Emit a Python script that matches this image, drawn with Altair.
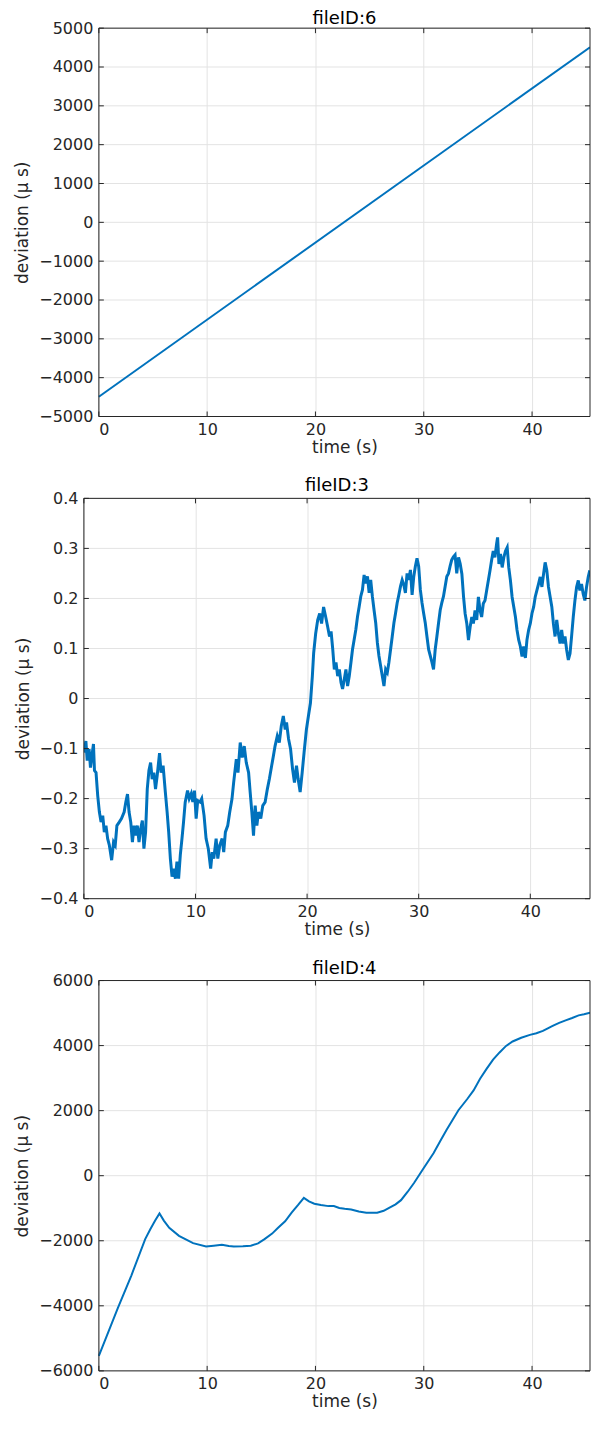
import altair as alt
import pandas as pd

# ---------------- data ----------------
# fileID:6
T6 = [0.0, 45.35]
V6 = [-4490, 4510]

# fileID:3 (noisy)
T3 = [0.0, 0.18, 0.3, 0.47, 0.59, 0.74, 0.86, 0.95, 1.09, 1.24, 1.39, 1.54, 1.69, 1.83, 1.98,
      2.13, 2.28, 2.49, 2.66, 2.81, 2.96, 3.17, 3.37, 3.61, 3.76, 3.91, 4.05, 4.2, 4.35, 4.5,
      4.64, 4.79, 4.94, 5.09, 5.24, 5.38, 5.53, 5.68, 5.83, 5.98, 6.12, 6.27, 6.42, 6.57, 6.78,
      6.92, 7.1, 7.3, 7.46, 7.6, 7.75, 7.9, 8.05, 8.2, 8.34, 8.49, 8.64, 8.79, 8.93, 9.08,
      9.29, 9.44, 9.62, 9.76, 9.91, 10.06, 10.2, 10.41, 10.56, 10.77, 10.95, 11.15, 11.36,
      11.5, 11.64, 11.85, 12.0, 12.18, 12.39, 12.53, 12.68, 12.89, 13.07, 13.27, 13.42, 13.66,
      13.81, 14.01, 14.19, 14.37, 14.55, 14.76, 14.9, 15.05, 15.2, 15.35, 15.5, 15.64, 15.85,
      16.03, 16.24, 16.44, 16.62, 16.83, 16.98, 17.13, 17.33, 17.51, 17.69, 17.87, 18.04,
      18.16, 18.34, 18.52, 18.7, 18.87, 19.05, 19.2, 19.38, 19.56, 19.73, 19.94, 20.12, 20.3,
      20.47, 20.59, 20.77, 20.95, 21.13, 21.3, 21.48, 21.66, 21.84, 22.01,
      22.15, 22.3, 22.44, 22.59, 22.74, 22.89, 23.04, 23.18, 23.33, 23.48, 23.63, 23.78, 23.93,
      24.07, 24.22, 24.37, 24.52, 24.67, 24.81, 24.96, 25.11, 25.26, 25.41, 25.56, 25.7, 25.85,
      26.0, 26.15, 26.3, 26.44, 26.59, 26.74, 26.89, 27.04, 27.19, 27.33, 27.48, 27.63, 27.78,
      27.93, 28.07, 28.22, 28.37, 28.52, 28.67, 28.81, 28.96, 29.11, 29.26, 29.41, 29.56, 29.7,
      29.85, 30.0, 30.15, 30.3, 30.44, 30.59, 30.74, 30.89, 31.04, 31.19, 31.33, 31.48, 31.63,
      31.78, 31.93, 32.07, 32.22, 32.37, 32.52, 32.67, 32.81, 32.96, 33.11, 33.26, 33.41,
      33.57, 33.72, 33.87, 34.02, 34.16, 34.31, 34.46, 34.61, 34.76, 34.9, 35.05, 35.2, 35.35,
      35.5, 35.64, 35.79, 35.94, 36.09, 36.24, 36.39, 36.53, 36.68, 36.83, 36.98, 37.07, 37.19,
      37.33, 37.48, 37.63, 37.78, 37.93, 38.07, 38.22, 38.37, 38.52, 38.67, 38.81, 38.96, 39.11,
      39.26, 39.41, 39.56, 39.7, 39.85, 40.0, 40.15, 40.3, 40.44, 40.59, 40.74, 40.89, 41.04,
      41.19, 41.33, 41.48, 41.63, 41.78, 41.93, 42.07, 42.22, 42.37, 42.52, 42.67, 42.81, 42.96,
      43.11, 43.26, 43.41, 43.56, 43.7, 43.85, 44.0, 44.15, 44.3, 44.44, 44.59, 44.74, 44.89,
      45.04, 45.19, 45.33]
V3 = [-0.108, -0.085, -0.124, -0.101, -0.138, -0.111, -0.091, -0.144, -0.148, -0.194, -0.227,
      -0.247, -0.234, -0.267, -0.254, -0.280, -0.293, -0.323, -0.287, -0.293, -0.254, -0.247,
      -0.240, -0.227, -0.207, -0.191, -0.227, -0.247, -0.287, -0.254, -0.274, -0.254, -0.287,
      -0.260, -0.244, -0.300, -0.267, -0.181, -0.144, -0.128, -0.161, -0.148, -0.181, -0.154,
      -0.109, -0.148, -0.134, -0.187, -0.227, -0.267, -0.320, -0.356, -0.340, -0.360, -0.326,
      -0.360, -0.313, -0.280, -0.247, -0.207, -0.184, -0.200, -0.190, -0.207, -0.184, -0.240,
      -0.204, -0.207, -0.200, -0.234, -0.280, -0.300, -0.340,
      -0.307, -0.320, -0.280, -0.320, -0.293, -0.280, -0.307, -0.267, -0.254, -0.227, -0.201,
      -0.168, -0.121, -0.148, -0.088, -0.118, -0.095, -0.128, -0.148, -0.187, -0.227, -0.274,
      -0.214, -0.254, -0.227, -0.240, -0.214, -0.207, -0.181, -0.161, -0.134, -0.115, -0.095,
      -0.075, -0.088, -0.055, -0.035, -0.062, -0.048, -0.081, -0.101, -0.141, -0.168, -0.134,
      -0.161, -0.187, -0.148, -0.108, -0.062, -0.035, -0.009, 0.044, 0.091, 0.130, 0.157,
      0.170, 0.150, 0.183, 0.164, 0.144, 0.124,
      0.134, 0.098, 0.058, 0.072, 0.045, 0.058, 0.032, 0.019, 0.038, 0.058, 0.025, 0.045, 0.072,
      0.098, 0.118, 0.138, 0.164, 0.184, 0.204, 0.217, 0.247, 0.230, 0.244, 0.211, 0.237, 0.204,
      0.177, 0.151, 0.111, 0.085, 0.065, 0.045, 0.025, 0.058, 0.052, 0.072, 0.098, 0.124, 0.151,
      0.171, 0.191, 0.207, 0.224, 0.237, 0.227, 0.211, 0.250, 0.237, 0.257, 0.207, 0.244, 0.264,
      0.280, 0.264, 0.217, 0.191, 0.171, 0.151, 0.124, 0.098, 0.085, 0.072, 0.058, 0.098, 0.124,
      0.151, 0.177, 0.191, 0.204, 0.224, 0.244, 0.250, 0.264, 0.277, 0.283, 0.287, 0.250,
      0.282, 0.269, 0.249, 0.203, 0.170, 0.150, 0.117, 0.143, 0.163, 0.150, 0.176, 0.157, 0.203,
      0.176, 0.163, 0.190, 0.196, 0.216, 0.236, 0.256, 0.276, 0.295, 0.282, 0.309, 0.322, 0.269,
      0.289, 0.262, 0.282, 0.295, 0.302, 0.262, 0.236, 0.203, 0.183, 0.163, 0.137, 0.117, 0.104,
      0.084, 0.104, 0.081, 0.117, 0.137, 0.150, 0.170, 0.183, 0.203, 0.216, 0.229, 0.243, 0.223,
      0.249, 0.272, 0.256, 0.223, 0.203, 0.183, 0.150, 0.124, 0.157, 0.130, 0.110, 0.137, 0.110,
      0.124, 0.097, 0.077, 0.090, 0.124, 0.163, 0.196, 0.223, 0.236, 0.216, 0.229, 0.209, 0.196,
      0.223, 0.243, 0.256]

# fileID:4
T4 = [0.0, 1.76, 3.0, 4.28, 4.75, 5.2, 5.6, 6.0, 6.5, 7.4, 8.7, 9.9, 10.6, 11.36, 12.0, 12.46,
      13.3, 14.03, 14.7, 15.3, 16.0, 16.55, 17.2, 17.8, 18.4, 18.93, 19.4, 19.9, 20.5, 21.2,
      21.7, 22.2, 22.7, 23.3, 24.0, 24.7, 25.7, 26.3, 26.8, 27.4, 27.9, 28.5, 29.1, 30.0, 30.9,
      31.5, 32.1, 33.2, 34.0, 34.6, 35.2, 35.8, 36.4, 37.0, 37.6, 38.2, 39.0, 39.8, 40.4, 41.0,
      41.5, 41.9, 42.5, 43.1, 43.7, 44.3, 44.8, 45.35]
V4 = [-5540, -4065, -3069, -1951, -1646, -1380, -1159, -1380, -1600, -1850, -2073, -2175,
      -2150, -2124, -2160, -2175, -2170, -2154, -2080, -1951, -1780, -1600, -1400, -1138, -900,
      -680, -790, -860, -900, -935, -930, -990, -1016, -1037, -1100, -1138, -1138, -1080, -986,
      -880, -752, -500, -224, 235, 692, 1050, 1402, 2012, 2350, 2622, 2980, 3283, 3570, 3790,
      3990, 4126, 4240, 4329, 4380, 4451, 4540, 4604, 4700, 4777, 4850, 4929, 4965, 5010]

XTICKS = [0, 10, 20, 30, 40]
XDOMAIN = [0, 45.35]
YTICKS6 = [-5000, -4000, -3000, -2000, -1000, 0, 1000, 2000, 3000, 4000, 5000]
YTICKS3 = [-0.4, -0.3, -0.2, -0.1, 0, 0.1, 0.2, 0.3, 0.4]
YTICKS4 = [-6000, -4000, -2000, 0, 2000, 4000, 6000]

LINE = "#0072BD"
AX = "#262626"
GRID = "#e3e3e3"
FONT = "DejaVu Sans"
TL = 5    # inward tick length
W = 507   # common panel width (plot of fileID:3 spans it all)


def panel(t, v, title, ydom, yticks, yfmt, x0, H, sw, toff):
    df = pd.DataFrame({"t": t, "v": v})
    xs = alt.Scale(domain=XDOMAIN, nice=False, zero=False, range=[x0, W])
    ys = alt.Scale(domain=ydom, nice=False, zero=False)
    xaxis = alt.Axis(values=XTICKS, format="d", title="time (s)", grid=True,
                     labelPadding=5, titlePadding=2)
    yaxis = alt.Axis(values=yticks, format=yfmt, title="deviation (μ s)", grid=False,
                     labelPadding=6, titlePadding=7, offset=-x0)
    X = alt.X("t:Q", scale=xs, axis=xaxis)
    Y = alt.Y("v:Q", scale=ys, axis=yaxis)

    xt = pd.DataFrame({"t": XTICKS})
    yt = pd.DataFrame({"v": yticks})
    one = pd.DataFrame({"a": [0]})

    ygrid = alt.Chart(yt).mark_rule(color=GRID, strokeWidth=1).encode(
        y=Y, x=alt.value(x0), x2=alt.value(W))
    line = alt.Chart(df).mark_line(color=LINE, strokeWidth=sw, clip=True).encode(x=X, y=Y)
    tb = alt.Chart(xt).mark_rule(color=AX, strokeWidth=1).encode(
        x=X, y=alt.value(H), y2=alt.value(H - TL))
    tt = alt.Chart(xt).mark_rule(color=AX, strokeWidth=1).encode(
        x=X, y=alt.value(0), y2=alt.value(TL))
    tl = alt.Chart(yt).mark_rule(color=AX, strokeWidth=1).encode(
        y=Y, x=alt.value(x0), x2=alt.value(x0 + TL))
    tr = alt.Chart(yt).mark_rule(color=AX, strokeWidth=1).encode(
        y=Y, x=alt.value(W), x2=alt.value(W - TL))
    f_top = alt.Chart(one).mark_rule(color=AX, strokeWidth=1).encode(
        x=alt.value(x0), x2=alt.value(W), y=alt.value(0))
    f_bot = alt.Chart(one).mark_rule(color=AX, strokeWidth=1).encode(
        x=alt.value(x0), x2=alt.value(W), y=alt.value(H))
    f_left = alt.Chart(one).mark_rule(color=AX, strokeWidth=1).encode(
        x=alt.value(x0), y=alt.value(0), y2=alt.value(H))
    f_right = alt.Chart(one).mark_rule(color=AX, strokeWidth=1).encode(
        x=alt.value(W), y=alt.value(0), y2=alt.value(H))

    return alt.layer(ygrid, line, tb, tt, tl, tr, f_top, f_bot, f_left, f_right).properties(
        width=W, height=H,
        title=alt.Title(title, fontSize=18, fontWeight="normal", font=FONT,
                        color="#000000", offset=toff, dx=x0 / 2),
    )


p1 = panel(T6, V6, "fileID:6", [-5000, 5000], YTICKS6, "d", 15, 389, 2, -8)
p2 = panel(T3, V3, "fileID:3", [-0.4, 0.4], YTICKS3, ".1~f", 0, 401, 3, -5)
p3 = panel(T4, V4, "fileID:4", [-6000, 6000], YTICKS4, "d", 15, 391, 2, -5)

chart = alt.vconcat(p1, p2, p3, spacing=20).properties(
    padding={"left": 5, "top": 0, "right": 0, "bottom": 0},
    background="white",
).configure_view(
    stroke="transparent"
).configure_axis(
    domain=False, ticks=False,
    gridColor=GRID, gridWidth=1,
    labelFont=FONT, labelFontSize=16, labelColor=AX,
    titleFont=FONT, titleFontSize=17, titleFontWeight="normal", titleColor=AX,
)

chart.save("out.html", embed_options={"renderer": "svg", "actions": False})
